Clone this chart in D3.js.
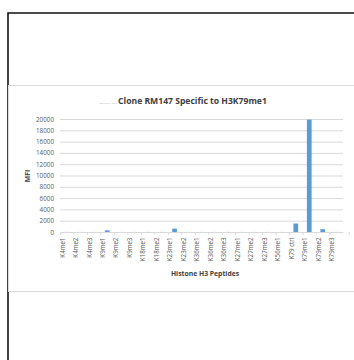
<!DOCTYPE html>
<html>
<head>
<meta charset="utf-8">
<script src="https://cdn.jsdelivr.net/npm/d3@7"></script>
<style>
  body { margin: 0; background: #fff; }
  svg { display: block; font-family: "Open Sans", "Liberation Sans", sans-serif; }
</style>
</head>
<body>
<svg width="354" height="360"></svg>
<script>
let peptides = ["K4me1", "K4me2", "K4me3", "K9me1", "K9me2", "K9me3", "K18me1", "K18me2",
  "K23me1", "K23me2", "K36me1", "K36me2", "K36me3", "K27me1", "K27me2", "K27me3",
  "K56me1", "K79 ctrl", "K79me1", "K79me2", "K79me3"]
let mfi = [10, 10, 10, 300, 10, 10, 10, 10, 600, 10, 10, 10, 10, 10, 10, 10, 10, 1500, 19900, 500, 10]
let yTicks = [0, 2000, 4000, 6000, 8000, 10000, 12000, 14000, 16000, 18000, 20000]

let svg = d3.select("svg")
let margin = {top: 119, right: 11, bottom: 128, left: 60}
let width = svg.attr("width") - margin.left - margin.right
let height = svg.attr("height") - margin.top - margin.bottom

// page frame
svg.append("path")
  .attr("d", "M8,360 V13 H354")
  .attr("fill", "none")
  .attr("stroke", "#111")
  .attr("stroke-width", 1.6)

// chart box
svg.append("rect")
  .attr("x", 8.5).attr("y", 85.5)
  .attr("width", 400).attr("height", 206)
  .attr("fill", "#fff")
  .attr("stroke", "#d9d9d9")

let x = d3.scaleBand().domain(peptides).range([0, width]).paddingInner(0.65).paddingOuter(0.33)
let xGrid = d3.scaleBand().domain(peptides).range([0, width])
let y = d3.scaleLinear().domain([0, 20000]).range([height, 0])

let g = svg.append("g")
  .attr("transform", "translate(" + margin.left + "," + margin.top + ")")

// gridlines
g.append("g")
  .selectAll("line")
  .data(yTicks.slice(1))
  .enter().append("line")
    .attr("x1", 0).attr("x2", width)
    .attr("y1", d => y(d) + 0.5).attr("y2", d => y(d) + 0.5)
    .attr("stroke", "#d9d9d9")

// y axis labels
let yAxis = g.append("g")
  .call(d3.axisLeft(y).tickValues(yTicks).tickFormat(d3.format("d")).tickSize(0).tickPadding(6))
yAxis.select(".domain").remove()
yAxis.selectAll("text")
  .attr("font-family", "Open Sans, Liberation Sans, sans-serif")
  .attr("font-size", 6.3)
  .attr("fill", "#595959")

// bars
g.selectAll(".bar")
  .data(peptides)
  .enter().append("rect")
    .attr("class", "bar")
    .attr("x", (d, i) => x(d))
    .attr("y", (d, i) => y(mfi[i]))
    .attr("width", x.bandwidth())
    .attr("height", (d, i) => height - y(mfi[i]))
    .attr("fill", "#5b9bd5")

// x axis
let xAxis = g.append("g")
  .attr("transform", "translate(0," + height + ")")
  .call(d3.axisBottom(xGrid).tickSize(0).tickPadding(4))
xAxis.select(".domain").attr("stroke", "#d9d9d9")
xAxis.selectAll("text")
  .attr("transform", "rotate(-90)")
  .attr("text-anchor", "end")
  .attr("dx", "-0.9em")
  .attr("dy", "-0.35em")
  .attr("x", 0).attr("y", 0)
  .attr("font-family", "Open Sans, Liberation Sans, sans-serif")
  .attr("font-size", 6.2)
  .attr("fill", "#595959")
xAxis.append("g")
  .selectAll("line")
  .data(peptides)
  .enter().append("line")
    .attr("x1", d => xGrid(d) + 0.5).attr("x2", d => xGrid(d) + 0.5)
    .attr("y1", 0).attr("y2", 3)
    .attr("stroke", "#d9d9d9")
xAxis.select("g").append("line")
  .attr("x1", width - 0.5).attr("x2", width - 0.5)
  .attr("y1", 0).attr("y2", 3)
  .attr("stroke", "#d9d9d9")

// title
let title = svg.append("text")
  .attr("x", 183).attr("y", 104)
  .attr("text-anchor", "middle")
  .attr("font-size", 8.6)
title.append("tspan").attr("fill", "#8c8c8c").attr("font-size", 6).text("....... ... ")
title.append("tspan").attr("fill", "#404040").attr("font-weight", "bold").text("Clone RM147 Specific to H3K79me1")

// axis titles
svg.append("text")
  .attr("x", 205).attr("y", 276)
  .attr("text-anchor", "middle")
  .attr("font-size", 6.8)
  .attr("font-weight", "bold")
  .attr("fill", "#404040")
  .text("Histone H3 Peptides")

svg.append("text")
  .attr("transform", "translate(30,176) rotate(-90)")
  .attr("text-anchor", "middle")
  .attr("font-size", 6.8)
  .attr("font-weight", "bold")
  .attr("fill", "#404040")
  .text("MFI")
</script>
</body>
</html>
